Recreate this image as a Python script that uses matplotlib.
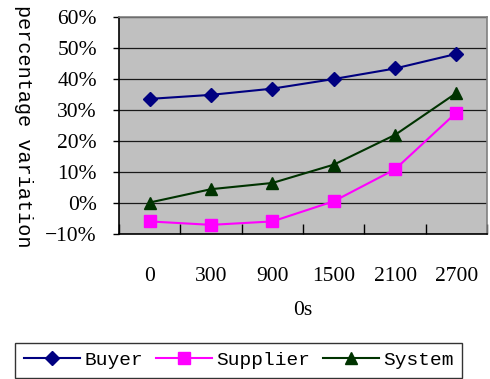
import matplotlib
matplotlib.use("Agg")
import matplotlib.pyplot as plt
import numpy as np

# values (percent)
times = ["0", "300", "900", "1500", "2100", "2700"]
buyer = [33.5, 34.8, 36.8, 39.9, 43.3, 48.0]
supplier = [-6.0, -7.1, -6.0, 0.5, 10.8, 29.1]
system = [0.1, 4.4, 6.4, 12.3, 21.9, 35.4]

serif = "Liberation Serif"
mono = "Liberation Mono"

fig = plt.figure(figsize=(4.9, 3.79), dpi=100)
ax = fig.add_axes([0.243, 0.383, 0.751, 0.573])
ax.set_facecolor("#C0C0C0")

x = np.arange(len(times))
ax.plot(x, buyer, color="#000080", marker="D", markersize=7.5, lw=1.5, label="Buyer")
ax.plot(x, supplier, color="#FF00FF", marker="s", markersize=8.5, lw=1.5, label="Supplier")
ax.plot(x, system, color="#003300", marker="^", markersize=9, lw=1.5, label="System")

ax.set_xlim(-0.5, len(times) - 0.5)
ax.set_ylim(-10, 60)
ax.set_yticks(np.arange(-10, 61, 10))
ax.set_yticklabels([f"{v}%".replace("-", "\u2212") for v in range(-10, 61, 10)],
                   fontfamily=serif, fontsize=15.5)
ax.yaxis.grid(True, color="#1a1a1a", lw=0.9)
ax.set_axisbelow(True)
ax.tick_params(axis="y", direction="out", length=4, width=1, pad=12)

# category ticks sit between the categories, labels under the points
ax.set_xticks(np.arange(-0.5, len(times) - 0.4, 1))
ax.set_xticklabels([])
ax.set_xticks(x, minor=True)
ax.set_xticklabels(times, minor=True, fontfamily=serif, fontsize=15.5)
ax.tick_params(axis="x", which="major", direction="in", length=7, width=1)
ax.tick_params(axis="x", which="minor", length=0, pad=24)

for side in ["top", "right"]:
    ax.spines[side].set_color("#808080")
    ax.spines[side].set_linewidth(1.2)
for side in ["left", "bottom"]:
    ax.spines[side].set_color("black")
    ax.spines[side].set_linewidth(1.2)

ax.set_xlabel("0s", fontfamily=serif, fontsize=15.5, labelpad=11)
fig.text(0.047, 0.668, "percentage variation", rotation=270,
         fontfamily=mono, fontsize=14.5, ha="center", va="center")

leg = fig.legend(loc="lower left", bbox_to_anchor=(0.031, 0.003, 0.912, 0.1),
                 mode="expand", ncol=3, frameon=True, fancybox=False,
                 prop={"family": mono, "size": 14}, handlelength=2.9,
                 handletextpad=0.2, columnspacing=0.4, borderpad=0.45,
                 borderaxespad=0)
leg.get_frame().set_edgecolor("black")
leg.get_frame().set_linewidth(1.0)

fig.savefig("out.png", dpi=100)
